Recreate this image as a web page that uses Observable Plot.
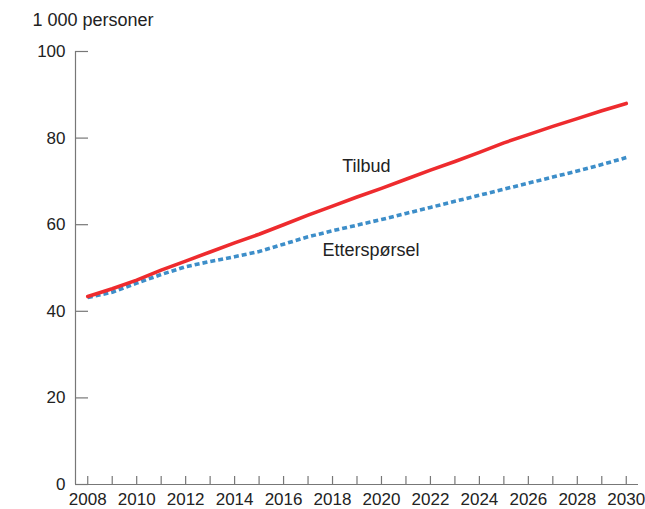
<!DOCTYPE html>
<html>
<head>
<meta charset="utf-8">
<script src="https://cdn.jsdelivr.net/npm/d3@7"></script>
<script src="https://cdn.jsdelivr.net/npm/@observablehq/plot@0.6"></script>
<style>
  body { margin: 0; background: #fff; }
  svg { font-family: "Liberation Sans", Arial, sans-serif; }
</style>
</head>
<body>
<div id="chart"></div>
<script>
const years = d3.range(2008, 2031);
const tilbud = [43.4, 45.2, 47.2, 49.5, 51.6, 53.7, 55.8, 57.8, 60.0, 62.2, 64.3, 66.4, 68.4, 70.5, 72.6, 74.6, 76.7, 78.9, 80.8, 82.7, 84.5, 86.3, 88.0];
const etterspørsel = [43.2, 44.4, 46.5, 48.5, 50.3, 51.5, 52.6, 53.8, 55.5, 57.2, 58.6, 59.9, 61.2, 62.6, 64.0, 65.4, 66.8, 68.2, 69.6, 71.0, 72.4, 73.9, 75.5];
const yTicks = [0, 20, 40, 60, 80, 100];
const xLabels = d3.range(2008, 2031, 2);
const seriesLabels = [
  {name: "Tilbud", year: 2019.38, value: 73.4},
  {name: "Etterspørsel", year: 2019.57, value: 54.1}
];
const unit = "1 000 personer";

const rows = years.map((y, i) => ({year: y, tilbud: tilbud[i], etter: etterspørsel[i]}));

const chart = Plot.plot({
  width: 645,
  height: 509,
  marginLeft: 75,
  marginRight: 7,
  marginTop: 51,
  marginBottom: 25,
  style: {fontFamily: "'Liberation Sans', Arial, sans-serif", fontSize: "17px", color: "#222", background: "#fff"},
  x: {domain: [2007.5, 2030.5]},
  y: {domain: [0, 100]},
  marks: [
    Plot.axisY(yTicks, {tickSize: -13, tickPadding: 23, stroke: "#777", strokeWidth: 1.2, strokeOpacity: 1, fill: "#222", fontSize: 17, label: null}),
    Plot.axisX(years, {tickSize: -8, tickFormat: () => "", stroke: "#777", strokeWidth: 1.2, strokeOpacity: 1, label: null}),
    Plot.axisX(xLabels, {tickSize: 0, tickPadding: 8, tickFormat: d => String(d), fill: "#222", fontSize: 17, label: null}),
    Plot.ruleX([2007.5], {y1: 0, y2: 100, stroke: "#777", strokeWidth: 1.2}),
    Plot.ruleY([0], {stroke: "#777", strokeWidth: 1.2}),
    Plot.line(rows, {x: "year", y: "etter", stroke: "#3d8ec9", strokeWidth: 3.6, strokeDasharray: "5,3", strokeLinecap: "butt"}),
    Plot.line(rows, {x: "year", y: "tilbud", stroke: "#ee2b2e", strokeWidth: 3.6}),
    Plot.text(seriesLabels, {x: "year", y: "value", text: "name", fill: "#222", fontSize: 18}),
    Plot.text([unit], {frameAnchor: "top-left", dx: -43, dy: -38, textAnchor: "start", fill: "#222", fontSize: 18})
  ]
});
document.getElementById("chart").appendChild(chart);
</script>
</body>
</html>
